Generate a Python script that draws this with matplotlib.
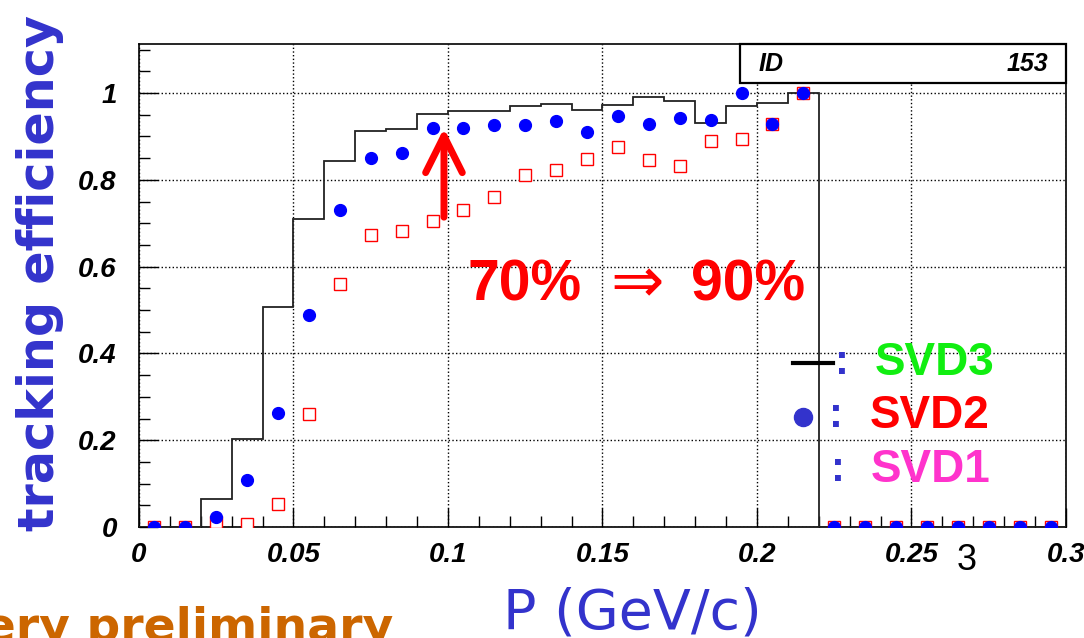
import numpy as np
import matplotlib
matplotlib.use("Agg")
import matplotlib.pyplot as plt
from matplotlib.ticker import MultipleLocator, FormatStrFormatter
from matplotlib.patches import Rectangle

# bin edges in P (GeV/c), 0.01 wide
edges = np.round(np.arange(0, 0.301, 0.01), 3)
centers = (edges[:-1] + edges[1:]) / 2

# SVD3 (histogram, black step)
svd3 = [0, 0, 0.065, 0.202, 0.508, 0.710, 0.843, 0.912, 0.918, 0.952,
        0.958, 0.959, 0.970, 0.974, 0.962, 0.972, 0.992, 0.982, 0.930, 0.971,
        0.977, 1.0, 0, 0, 0, 0, 0, 0, 0, 0]
# SVD2 (blue dots)
svd2 = [0, 0, 0.024, 0.108, 0.262, 0.488, 0.730, 0.850, 0.863, 0.920,
        0.919, 0.926, 0.926, 0.935, 0.910, 0.947, 0.928, 0.942, 0.939, 1.0,
        0.928, 1.0, 0, 0, 0, 0, 0, 0, 0, 0]
# SVD1 (red open squares)
svd1 = [0, 0, 0.012, 0.008, 0.053, 0.260, 0.559, 0.672, 0.681, 0.706,
        0.730, 0.760, 0.811, 0.823, 0.849, 0.875, 0.846, 0.833, 0.889, 0.894,
        0.928, 1.0, 0, 0, 0, 0, 0, 0, 0, 0]

BLUE_TXT = '#3333cc'

fig = plt.figure(figsize=(10.84, 6.38), dpi=100)
ax = fig.add_axes([0.1282, 0.174, 0.8552, 0.757])

ax.stairs(svd3, edges, color='#222222', lw=1.3, zorder=3)
ax.plot(centers, svd1, 's', mfc='white', mec='red', ms=8.5, mew=1.0, zorder=4)
ax.plot(centers, svd2, 'o', color='blue', ms=8.5, zorder=5)

ax.set_xlim(0, 0.3)
ax.set_ylim(0, 1.113)
ax.xaxis.set_major_locator(MultipleLocator(0.05))
ax.xaxis.set_minor_locator(MultipleLocator(0.01))
ax.yaxis.set_major_locator(MultipleLocator(0.2))
ax.yaxis.set_minor_locator(MultipleLocator(0.05))
ax.xaxis.set_major_formatter(FormatStrFormatter('%g'))
ax.yaxis.set_major_formatter(FormatStrFormatter('%g'))
ax.grid(True, which='major', ls=':', color='black', lw=1.0)
ax.set_axisbelow(True)
ax.tick_params(which='both', direction='in', top=False, right=False)
ax.tick_params(which='major', length=14, width=1, pad=11)
ax.tick_params(which='minor', length=8, width=1)
ax.tick_params(axis='y', which='major', pad=16)
for s in ax.spines.values():
    s.set_linewidth(1.2)
for lab in ax.get_xticklabels() + ax.get_yticklabels():
    lab.set_fontfamily('Liberation Sans')
    lab.set_fontweight('bold')
    lab.set_fontstyle('italic')
    lab.set_fontsize(20)

# stat box
ax.add_patch(Rectangle((0.648, 0.920), 0.352, 0.080, transform=ax.transAxes,
                       fill=True, fc='white', ec='black', lw=1.6, zorder=6, clip_on=False))
ax.text(0.668, 0.959, 'ID', transform=ax.transAxes, ha='left', va='center',
        family='Liberation Sans', weight='bold', style='italic', fontsize=18, zorder=7)
ax.text(0.981, 0.959, '153', transform=ax.transAxes, ha='right', va='center',
        family='Liberation Sans', weight='bold', style='italic', fontsize=18, zorder=7)

# arrow and headline
ax.annotate('', xy=(0.0987, 0.919), xytext=(0.0987, 0.714),
            arrowprops=dict(arrowstyle='->', color='red', lw=5, mutation_scale=66,
                            shrinkA=0, shrinkB=0), zorder=6)
head_kw = dict(va='baseline', color='red', family='Liberation Sans', weight='bold',
               fontsize=41, zorder=6)
ax.text(0.1064, 0.523, '70%', ha='left', **head_kw)
ax.text(0.2155, 0.523, '90%', ha='right', **head_kw)
ax.text(0.1612, 0.518, '⇒', ha='center', va='baseline', color='red',
        family='DejaVu Sans', fontsize=46, zorder=6)

# hand-made legend
ax.plot([0.2117, 0.2246], [0.378, 0.378], color='black', lw=3, clip_on=False, zorder=6)
ax.plot([0.2149], [0.253], 'o', color=BLUE_TXT, ms=13, clip_on=False, zorder=6)
legend_items = [('SVD3', '#11ee11', 0.350, 0.2382, 0.2275),
                ('SVD2', 'red', 0.228, 0.2366, 0.2257),
                ('SVD1', '#ff33cc', 0.104, 0.2369, 0.2262)]
for name, col, yb, xt, xc in legend_items:
    ax.text(xc, yb + 0.002, ':', ha='center', va='baseline', color=BLUE_TXT,
            family='Liberation Sans', weight='bold', fontsize=30, zorder=6)
    ax.text(xt, yb, name, ha='left', va='baseline', color=col,
            family='Liberation Sans', weight='bold', fontsize=33, zorder=6)

# axis titles and slide text
fig.text(40 / 1084, 1 - 273 / 638, 'tracking efficiency', rotation=90, ha='center',
         va='center', color=BLUE_TXT, family='DejaVu Sans', weight='bold', fontsize=35.5)
fig.text(632 / 1084, 1 - 628 / 638, 'P (GeV/c)', ha='center', va='baseline',
         color=BLUE_TXT, family='DejaVu Sans', fontsize=40)
fig.text(393 / 1084, -3 / 638, 'very preliminary', ha='right', va='baseline',
         color='#cc6600', family='DejaVu Sans', weight='bold', fontsize=34)
fig.text(967 / 1084, 1 - 561 / 638, '3', ha='center', va='center',
         family='Liberation Sans', fontsize=26)

fig.savefig('out.png', dpi=100)
